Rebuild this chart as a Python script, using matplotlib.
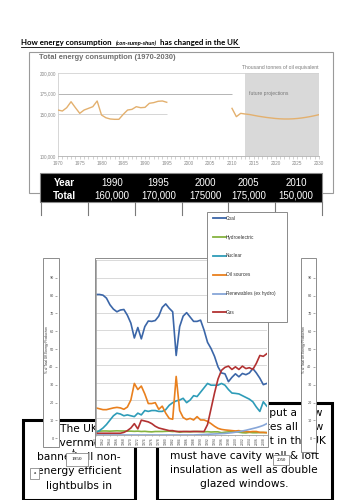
import matplotlib
matplotlib.use("Agg")
import matplotlib.pyplot as plt
from matplotlib.patches import Rectangle
from matplotlib.ticker import FuncFormatter, MultipleLocator

# ---------------- data ----------------
tec_hist_years = [1970, 1971, 1972, 1973, 1974, 1975, 1976, 1977, 1978, 1979,
                  1980, 1981, 1982, 1983, 1984, 1985, 1986, 1987, 1988, 1989,
                  1990, 1991, 1992, 1993, 1994, 1995]
tec_hist = [155400, 154200, 158200, 165400, 158200, 151400, 155400, 157400, 159400, 166300,
            149400, 146100, 144600, 144200, 144200, 150200, 155400, 156200, 159400, 158200,
            158600, 163500, 164300, 165900, 166300, 164700]
tec_proj_years = [2010, 2011, 2012, 2013, 2014, 2015, 2016, 2017, 2018, 2019, 2020,
                  2021, 2022, 2023, 2024, 2025, 2026, 2027, 2028, 2029, 2030]
tec_proj = [157400, 147400, 151400, 150600, 150000, 149000, 148000, 147200, 146400, 145800,
            145200, 144800, 144600, 144600, 144800, 145200, 145800, 146600, 147500, 148600,
            149800]

table_years = ["1990", "1995", "2000", "2005", "2010"]
table_totals = ["160,000", "170,000", "175000", "175,000", "150,000"]

years = [1960, 1961, 1962, 1963, 1964, 1965, 1966, 1967, 1968, 1969,
         1970, 1971, 1972, 1973, 1974, 1975, 1976, 1977, 1978, 1979,
         1980, 1981, 1982, 1983, 1984, 1985, 1986, 1987, 1988, 1989,
         1990, 1991, 1992, 1993, 1994, 1995, 1996, 1997, 1998, 1999,
         2000, 2001, 2002, 2003, 2004, 2005, 2006, 2007, 2008, 2009]
coal = [80.4, 80.4, 80.0, 78.3, 74.5, 72.0, 70.5, 71.5, 71.8, 68.5,
        64.0, 55.5, 61.5, 55.0, 62.0, 65.2, 65.0, 65.5, 68.0, 73.0,
        75.0, 72.5, 70.5, 45.5, 62.0, 68.0, 70.0, 67.5, 65.0, 65.0,
        65.7, 60.0, 53.0, 49.5, 45.0, 39.0, 35.5, 35.0, 30.5, 33.0,
        35.0, 33.3, 35.2, 34.5, 35.5, 38.0, 35.5, 32.5, 28.8, 29.5]
hydro = [2.0, 2.2, 2.3, 2.3, 2.2, 2.3, 2.4, 2.3, 2.3, 2.2,
         2.2, 2.1, 2.2, 2.0, 2.1, 1.9, 1.8, 2.0, 2.0, 2.0,
         2.1, 2.2, 2.0, 2.1, 1.6, 1.9, 1.9, 1.8, 2.0, 2.0,
         1.9, 1.8, 1.9, 1.7, 1.8, 1.8, 1.3, 1.6, 1.8, 1.9,
         1.9, 1.6, 1.3, 1.2, 1.5, 1.3, 1.3, 1.4, 1.4, 1.4]
nuclear = [1.5, 2.5, 4.0, 6.0, 8.5, 11.0, 12.5, 12.0, 11.0, 11.5,
           11.0, 10.5, 12.5, 11.5, 14.0, 13.5, 14.0, 14.0, 13.5, 13.5,
           14.5, 17.0, 18.5, 19.5, 20.0, 21.0, 18.5, 20.0, 22.5, 22.0,
           24.5, 27.0, 29.5, 28.5, 28.5, 28.5, 29.5, 28.5, 26.0, 24.0,
           23.8, 23.5, 22.5, 21.5, 20.5, 19.0, 16.0, 13.5, 19.0, 16.5]
oil = [15.5, 15.0, 14.5, 14.5, 15.0, 15.5, 15.8, 15.5, 14.7, 16.0,
       20.0, 29.5, 26.0, 28.0, 23.5, 18.0, 18.0, 18.5, 14.7, 16.5,
       12.5, 9.5, 9.0, 33.5, 14.0, 10.0, 8.8, 9.5, 8.6, 10.5,
       8.6, 8.6, 7.8, 6.5, 5.0, 3.8, 3.2, 2.9, 2.7, 2.5,
       2.3, 2.5, 2.0, 2.0, 1.8, 2.0, 2.0, 1.5, 1.5, 1.3]
renewables = [0.0, 0.0, 0.0, 0.0, 0.0, 0.0, 0.0, 0.0, 0.0, 0.0,
              0.0, 0.0, 0.0, 0.0, 0.0, 0.0, 0.0, 0.0, 0.0, 0.0,
              0.0, 0.0, 0.0, 0.0, 0.0, 0.0, 0.0, 0.0, 0.0, 0.1,
              0.2, 0.3, 0.4, 0.5, 0.6, 0.7, 0.8, 0.9, 1.1, 1.3,
              1.6, 1.9, 2.3, 2.7, 3.2, 3.7, 4.2, 4.8, 5.5, 6.5]
gas = [1.0, 1.0, 1.0, 1.0, 1.0, 1.0, 1.0, 1.0, 1.5, 2.5,
       4.0, 6.5, 3.5, 8.5, 8.0, 7.5, 6.5, 5.0, 4.0, 3.5,
       3.0, 2.5, 2.5, 2.0, 2.0, 2.0, 2.0, 2.0, 2.0, 2.0,
       2.0, 2.0, 6.0, 15.0, 24.0, 32.0, 37.0, 38.7, 39.4, 37.5,
       39.0, 37.5, 39.4, 38.0, 38.5, 37.5, 41.0, 45.5, 45.0, 46.5]
series_names = ["Coal", "Hydroelectric", "Nuclear", "Oil sources", "Renewables (ex hydro)", "Gas"]
series_colors = ["#3b66a8", "#86b340", "#2e9cb8", "#e9801e", "#87a6d8", "#b23232"]
series_values = [coal, hydro, nuclear, oil, renewables, gas]
xtick_years = [1960, 1962, 1964, 1966, 1968, 1970, 1972, 1974, 1976, 1978, 1980, 1982,
               1984, 1986, 1988, 1990, 1992, 1994, 1996, 1998, 2000, 2002, 2004, 2006, 2008]

left_text = ["government", "banned all non-", "energy efficient", "lightbulbs in"]
right_text = ["A law came in that put a new", "regulation that makes all new",
              "houses that are built in the UK", "must have cavity wall & loft",
              "insulation as well as double", "glazed windows."]

# ---------------- figure helpers ----------------
W, H = 353, 500
fig = plt.figure(figsize=(W / 100, H / 100), dpi=100)
fig.patch.set_facecolor("white")
SANS = ["Liberation Sans", "DejaVu Sans"]


def rect_ax(x0, y0, x1, y1, z):
    ax = fig.add_axes([x0 / W, 1 - y1 / H, (x1 - x0) / W, (y1 - y0) / H])
    ax.set_zorder(z)
    return ax


def layer(z):
    ax = fig.add_axes([0, 0, 1, 1])
    ax.set_xlim(0, W)
    ax.set_ylim(H, 0)
    ax.axis("off")
    ax.set_zorder(z)
    return ax


# ---------------- heading + top chart frame ----------------
L0 = layer(0.5)
renderer = fig.canvas.get_renderer()
x = 21
pieces = [("How energy consumption", 5.7, "normal", 4.5),
          ("(con-sump-shun)", 4.2, "italic", 3.0),
          ("has changed in the UK", 5.7, "normal", 0)]
for s, fs, st, gap in pieces:
    t = L0.text(x, 45.5, s, fontsize=fs, fontweight="bold", style=st, family=["Lato", "DejaVu Sans"],
                ha="left", va="baseline", color="black")
    bb = t.get_window_extent(renderer)
    x += bb.width + gap
L0.plot([21, x], [47.2, 47.2], color="black", lw=0.6)

L0.add_patch(Rectangle((29, 52), 304, 141, facecolor="white", edgecolor="#9a9a9a", lw=0.8))
L0.text(39, 57.5, "Total energy consumption (1970-2030)", fontsize=5.4, color="#6e6e6e",
        fontweight="bold", family=SANS, ha="left", va="center")
L0.text(319, 67, "Thousand tonnes of oil equivalent", fontsize=3.6, color="#7a7a7a",
        family=SANS, ha="right", va="center")

axT = rect_ax(58, 73, 319, 156, 1)
axT.set_xlim(1970, 2030)
axT.set_ylim(100000, 200000)
axT.axvspan(2013, 2030, color="#d9d9d9", lw=0, zorder=0)
axT.axhline(200000, color="#d2d2d2", lw=0.6, zorder=1)
axT.hlines(175000, 1970, 2010, color="#a8a8a8", lw=0.6, zorder=1)
axT.hlines(150000, 1970, 1995, color="#cfcfcf", lw=0.6, zorder=1)
axT.plot(tec_hist_years, tec_hist, color="#e3b06e", lw=1.0, zorder=3)
axT.plot(tec_proj_years, tec_proj, color="#e3b06e", lw=1.0, zorder=3)
axT.text(2014, 175000, "future projections", fontsize=3.6, color="#777777", family=SANS,
         ha="left", va="center")
for sp in ["top", "right"]:
    axT.spines[sp].set_visible(False)
axT.spines["left"].set_color("#d0d0d0")
axT.spines["left"].set_linewidth(0.6)
axT.spines["bottom"].set_color("#b0b0b0")
axT.spines["bottom"].set_linewidth(0.6)
axT.set_yticks([100000, 150000, 175000, 200000])
axT.yaxis.set_major_formatter(FuncFormatter(lambda v, p: "{:,}".format(int(v))))
axT.tick_params(axis="y", length=0, pad=1.5, labelsize=3.3, labelcolor="#8a8a8a")
axT.set_xticks(range(1970, 2031, 5))
axT.xaxis.set_minor_locator(MultipleLocator(1))
axT.tick_params(axis="x", which="both", length=2, width=0.4, color="#b0b0b0",
                labelsize=3.4, labelcolor="#8a8a8a", pad=1.5)
for lab in axT.get_xticklabels() + axT.get_yticklabels():
    lab.set_family(SANS)

# ---------------- text boxes ----------------
L1 = layer(1.5)
L1.add_patch(Rectangle((23, 420), 112, 80, facecolor="white", edgecolor="black", lw=2.2))
L1.add_patch(Rectangle((157, 403), 175, 97, facecolor="white", edgecolor="black", lw=2.2))
L1.text(60, 429, "The UK", fontsize=7.7, family="DejaVu Sans", ha="left", va="center")
for i, s in enumerate(left_text):
    L1.text(79, 443 + 14.2 * i, s, fontsize=7.7, family="DejaVu Sans", ha="center", va="center")
for i, s in enumerate(right_text):
    L1.text(244, 413 + 14.2 * i, s, fontsize=7.7, family="DejaVu Sans", ha="center", va="center")

# ---------------- side panels (axis strips) ----------------
L2 = layer(2)
L2.add_patch(Rectangle((43, 258), 16, 189, facecolor="white", edgecolor="#8c8c8c", lw=0.7))
L2.add_patch(Rectangle((301, 258), 15, 194, facecolor="white", edgecolor="#8c8c8c", lw=0.7))
for xl in (46.8, 304.5):
    L2.text(xl, 350, "% of Total UK Energy Production", fontsize=2.3, rotation=90,
            family=SANS, ha="center", va="center", color="#333333")
for xa in (57, 315):
    axS = rect_ax(xa, 259.8, xa + 1, 438.3, 2.1)
    axS.set_ylim(0, 100)
    axS.set_yticks(range(0, 100, 10))
    axS.set_xticks([])
    axS.patch.set_alpha(0)
    for sp in axS.spines.values():
        sp.set_visible(False)
    axS.tick_params(axis="y", length=1.5, width=0.4, color="#666666", labelsize=2.4,
                    labelcolor="#444444", pad=1)

# ---------------- main chart ----------------
L3 = layer(3)
L3.add_patch(Rectangle((95, 258), 173, 189, facecolor="white", edgecolor="#8c8c8c", lw=0.7))
tt = L3.text(155.5, 267.5, "Energy sources UK", fontsize=5.7, fontweight="bold", family=SANS,
             ha="center", va="center")
bbt = tt.get_window_extent(renderer)
L3.plot([155.5 - bbt.width / 2, 155.5 + bbt.width / 2], [272, 272], color="black", lw=0.5)

axM = rect_ax(96, 260.2, 266.8, 435, 3.1)
axM.set_xlim(1960, 2009)
axM.set_ylim(0, 100)
axM.set_yticks(range(0, 101, 10))
axM.tick_params(axis="y", length=0, labelleft=False)
axM.grid(axis="y", color="#d9d9d9", lw=0.7)
axM.set_axisbelow(True)
for name, col, vals in zip(series_names, series_colors, series_values):
    axM.plot(years, vals, color=col, lw=1.2, label=name)
for sp in ["top", "right"]:
    axM.spines[sp].set_visible(False)
for sp in ["left", "bottom"]:
    axM.spines[sp].set_color("#a0a0a0")
    axM.spines[sp].set_linewidth(0.6)
axM.set_xticks(xtick_years)
axM.set_xticklabels([str(y) for y in xtick_years], rotation=90)
axM.tick_params(axis="x", length=1, width=0.4, color="#888888", labelsize=2.2,
                labelcolor="#444444", pad=0.5)

# ---------------- table ----------------
L4 = layer(4)
for xv in (41, 88, 135, 182, 228, 275, 322):
    L4.plot([xv, xv], [202, 215], color="#7a7a7a", lw=0.8)
L4.add_patch(Rectangle((40, 173), 282, 29, facecolor="black", edgecolor="#8a8a8a", lw=0.8))
L4.text(64, 183.5, "Year", color="white", fontsize=7.2, fontweight="bold", family=SANS,
        ha="center", va="center")
L4.text(64, 196, "Total", color="white", fontsize=7.2, fontweight="bold", family=SANS,
        ha="center", va="center")
for xc, yy, tot in zip((112, 158.5, 205, 248.5, 296), table_years, table_totals):
    L4.text(xc, 183.5, yy, color="white", fontsize=7, family=SANS, ha="center", va="center")
    L4.text(xc, 196, tot, color="white", fontsize=7, family=SANS, ha="center", va="center")

# ---------------- legend ----------------
L5 = layer(5)
L5.add_patch(Rectangle((207, 212), 80, 110, facecolor="white", edgecolor="#8a8a8a", lw=0.7))
for i, (name, col) in enumerate(zip(series_names, series_colors)):
    yy = 218.3 + 18.8 * i
    L5.plot([213, 225.5], [yy, yy], color=col, lw=1.3)
    L5.text(226, yy, name, fontsize=3.4, family=SANS, ha="left", va="center", color="#333333")

# ---------------- small labels ----------------
L6 = layer(6)
for (bx, by, bw, bh, s, fs) in [(66, 453, 22, 13, "1950", 3.8), (30, 468, 9, 11, "a", 3.8),
                                (273, 455, 16, 10, "2050", 3.4)]:
    L6.add_patch(Rectangle((bx, by), bw, bh, facecolor="white", edgecolor="#8a8a8a", lw=0.6))
    L6.text(bx + bw / 2, by + bh / 2, s, fontsize=fs, family=["Liberation Serif", "DejaVu Serif"],
            ha="center", va="center")
L6.annotate("", xy=(73.5, 446.5), xytext=(73.5, 452.5),
            arrowprops=dict(arrowstyle="-|>", color="#333333", lw=0.6, mutation_scale=3))

fig.savefig("out.png", dpi=100, facecolor="white")
